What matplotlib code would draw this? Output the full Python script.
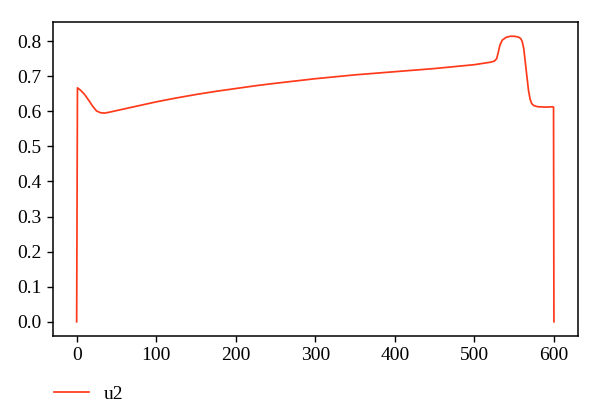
import matplotlib
matplotlib.use("Agg")
import matplotlib.pyplot as plt

t = [0, 1, 5, 10, 15, 20, 25, 30, 35, 40, 50, 60, 80, 100, 125, 150, 175, 200,
     225, 250, 300, 350, 400, 450, 500, 520, 525, 528, 530, 532, 535, 540, 545,
     550, 555, 558, 560, 562, 564, 566, 568, 570, 572, 575, 580, 590, 598, 599.5, 600]
u2 = [0.0, 0.667, 0.660, 0.648, 0.632, 0.615, 0.601, 0.596, 0.595, 0.597, 0.602,
      0.607, 0.617, 0.627, 0.638, 0.648, 0.657, 0.665, 0.673, 0.680, 0.693, 0.704,
      0.713, 0.722, 0.733, 0.740, 0.743, 0.750, 0.768, 0.788, 0.803, 0.811, 0.814,
      0.814, 0.812, 0.808, 0.800, 0.780, 0.740, 0.700, 0.660, 0.635, 0.622, 0.616,
      0.613, 0.612, 0.613, 0.612, 0.0]

plt.rcParams['font.family'] = ['Liberation Serif', 'DejaVu Serif']
plt.rcParams['font.size'] = 14

fig = plt.figure(figsize=(6, 4.19), dpi=100)
ax = fig.add_axes([0.088, 0.198, 0.875, 0.7495])
line, = ax.plot(t, u2, color='#ff3a1a', lw=1.25, label='u2')
ax.set_xticks([0, 100, 200, 300, 400, 500, 600])
ax.set_yticks([0.0, 0.1, 0.2, 0.3, 0.4, 0.5, 0.6, 0.7, 0.8])
ax.tick_params(length=4.5, width=1.0, labelsize=14)
for s in ax.spines.values():
    s.set_linewidth(1.1)
fig.legend(handles=[line], loc='upper left', bbox_to_anchor=(0.06, 0.122),
           frameon=False, handlelength=1.8, fontsize=14)
fig.savefig('out.png', dpi=100)
